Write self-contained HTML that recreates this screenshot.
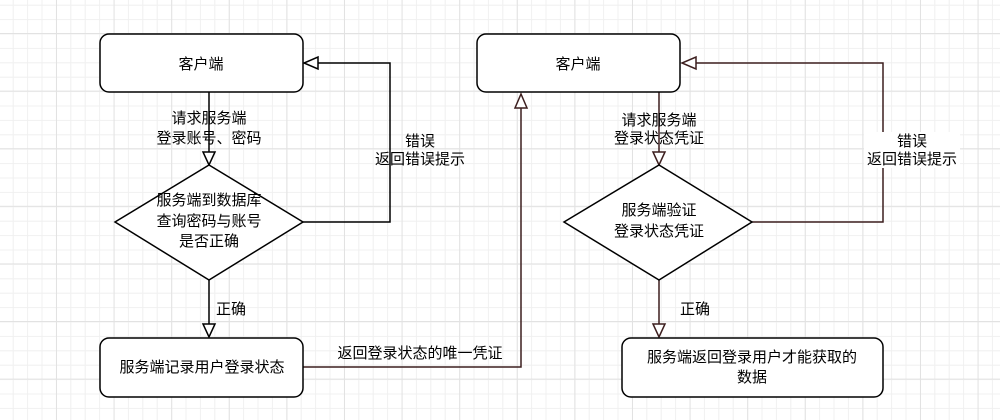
<!DOCTYPE html>
<html><head><meta charset="utf-8"><style>
html,body{margin:0;padding:0;background:#fff}
svg{display:block}
text{font-family:"Liberation Sans","Noto Sans CJK SC",sans-serif;font-size:15px;fill:#000}
</style></head><body>
<svg width="1000" height="420" viewBox="0 0 1000 420" xmlns="http://www.w3.org/2000/svg">
<defs>
<pattern id="mi" x="-1.7" y="4.7" width="14.4" height="14.4" patternUnits="userSpaceOnUse">
<path d="M0 0.5H14.4M0.5 0V14.4" stroke="#f0f0f0" stroke-width="1" fill="none"/>
</pattern>
<pattern id="ma" x="-1.6" y="-24.6" width="57.6" height="57.6" patternUnits="userSpaceOnUse">
<path d="M0 0.5H57.6M0.5 0V57.6" stroke="#e2e2e2" stroke-width="1" fill="none"/>
</pattern>
</defs>
<rect width="1000" height="420" fill="url(#mi)"/>
<rect width="1000" height="420" fill="url(#ma)"/>

<g fill="none" stroke="#000" stroke-width="1.5">
<line x1="209" y1="92" x2="209" y2="152"/>
<polyline points="303,222 390,222 390,63 318,63"/>
<line x1="209" y1="280" x2="209" y2="324"/>
</g>
<g fill="#fff" stroke="#000" stroke-width="1.5">
<polygon points="203,152 215,152 209,165"/>
<polygon points="318,57 318,69 304,63"/>
<polygon points="203,324 215,324 209,337"/>
</g>
<g fill="none" stroke="#3c1e1e" stroke-width="1.5">
<polyline points="303,367 521,367 521,108"/>
<line x1="659" y1="92" x2="659" y2="152"/>
<polyline points="752,222 883,222 883,63 696,63"/>
<line x1="659" y1="280" x2="659" y2="324"/>
</g>
<g fill="#fff" stroke="#3c1e1e" stroke-width="1.5">
<polygon points="515,108 527,108 521,94"/>
<polygon points="653,152 665,152 659,165"/>
<polygon points="696,57 696,69 682,63"/>
<polygon points="653,324 665,324 659,337"/>
</g>

<g fill="#fff" stroke="#000" stroke-width="1.5">
<rect x="100" y="34" width="203" height="58" rx="9"/>
<polygon points="209,165 303,222 209,280 115,222"/>
<rect x="100" y="338" width="203" height="59" rx="9"/>
<rect x="477" y="34" width="203" height="58" rx="9"/>
<polygon points="659,165 752,222 659,280 564,222"/>
<rect x="622" y="338" width="261" height="59" rx="9"/>
</g>

<rect x="864" y="132" width="96" height="36" fill="#fff"/>

<g text-anchor="middle">
<text x="201" y="69">客户端</text>
<text x="578" y="69">客户端</text>
<text x="209" y="123">请求服务端</text>
<text x="209" y="143">登录账号、密码</text>
<text x="209" y="205">服务端到数据库</text>
<text x="209" y="226">查询密码与账号</text>
<text x="209" y="246">是否正确</text>
<text x="420" y="146">错误</text>
<text x="420" y="164">返回错误提示</text>
<text x="202" y="372">服务端记录用户登录状态</text>
<text x="420" y="358">返回登录状态的唯一凭证</text>
<text x="659" y="125">请求服务端</text>
<text x="659" y="143">登录状态凭证</text>
<text x="659" y="215">服务端验证</text>
<text x="659" y="236">登录状态凭证</text>
<text x="912" y="146">错误</text>
<text x="912" y="164">返回错误提示</text>
<text x="752" y="362">服务端返回登录用户才能获取的</text>
<text x="752" y="382">数据</text>
</g>
<text x="216" y="314">正确</text>
<text x="680" y="314">正确</text>
</svg>
</body></html>
